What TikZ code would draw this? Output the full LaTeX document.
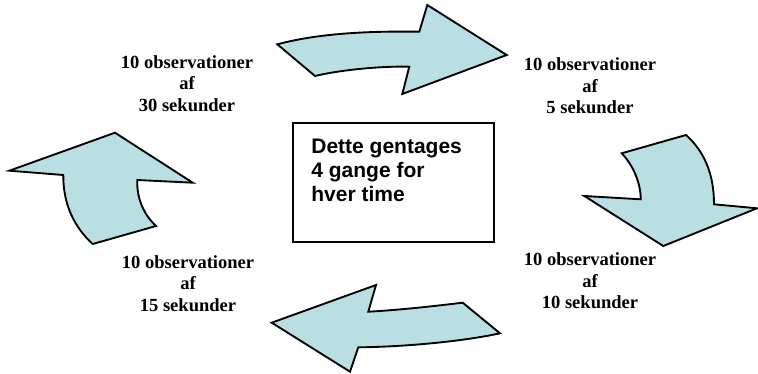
\documentclass[tikz,border=0pt]{standalone}
\usepackage{fontspec}
\usepackage{tikz}
\usetikzlibrary{positioning}
\newfontfamily\labelfont{Liberation Serif}
\newfontfamily\notefont{Liberation Sans}
\definecolor{arrowfill}{RGB}{185,223,227}

\begin{document}
\begin{tikzpicture}[
        x=0.75pt, y=-0.75pt,
        bigarrow/.style={draw=black, line width=1.4pt, fill=arrowfill,
                    line join=miter},
        lbl/.style={align=center, inner sep=0pt,
                    font=\labelfont\bfseries\fontsize{13.9pt}{16.2pt}\selectfont},
        notebox/.style={draw, line width=1.4pt,
                    minimum width=151pt, minimum height=89pt},
        note/.style={align=left, inner sep=0pt,
                    font=\notefont\bfseries\fontsize{15.75pt}{18.2pt}\selectfont}
    ]
    \useasboundingbox (0,0) rectangle (758,374);

    % ------- arrows (clockwise) -------
    \draw[bigarrow] (277.3,44.3) .. controls (320,33) and (370,31) .. (419.3,31.7)
        -- (427.3,5) -- (506.7,55) -- (402.3,94) -- (409.3,66.7)
        .. controls (380,66) and (340,70) .. (315,76) -- cycle;

    \draw[bigarrow] (686,135) .. controls (705,152) and (714,175) .. (714,204.3)
        -- (757,208.3) -- (663.3,246) -- (584.3,196) -- (640.7,199.3)
        .. controls (641,185) and (634,166) .. (621.7,153.3) -- cycle;

    \draw[bigarrow] (271.7,322.7) -- (376,285) -- (368.3,311.7)
        .. controls (400,310) and (435,306) .. (462.7,302.7)
        -- (500,333.3) .. controls (460,342) and (400,347) .. (358.3,347.3)
        -- (350,371.7) -- cycle;

    \draw[bigarrow] (9.3,170.7) -- (115,132.7) -- (192.7,182.7) -- (137.3,180)
        .. controls (136.5,197) and (143,214) .. (156,226) -- (92.7,244)
        .. controls (75,228) and (63,205) .. (63.3,175) -- cycle;

    % ------- labels -------
    \node[lbl] (l30) at (187,83.4) {10 observationer\\af\\30 sekunder};
    \node[lbl] (l5)  at (590,85.8) {10 observationer\\af\\5 sekunder};
    \node[lbl] (l10) at (590,280.7) {10 observationer\\af\\10 sekunder};
    \node[lbl] (l15) at (188,283.4) {10 observationer\\af\\15 sekunder};

    % ------- center box -------
    \node[notebox] (box) at (393.4,182.6) {};
    \node[note, below right=12pt and 14.5pt of box.north west] (txt)
        {Dette gentages\\4 gange for\\hver time};

\end{tikzpicture}
\end{document}
